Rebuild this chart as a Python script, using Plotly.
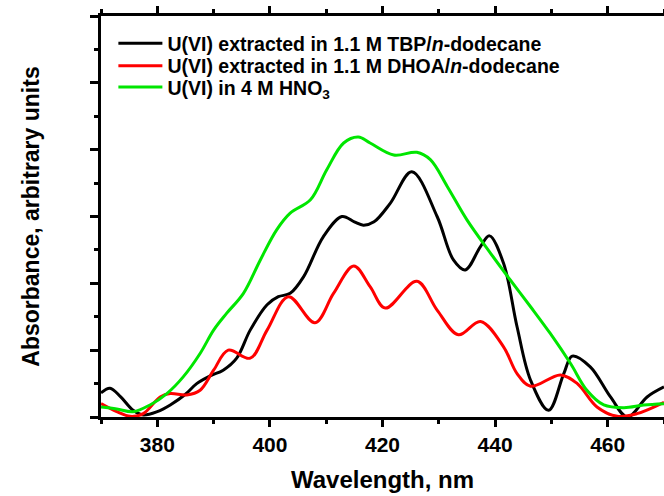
import plotly.graph_objects as go

# Wavelength (nm) and absorbance (arbitrary units)
tbp_x = [370.0, 371.6, 373.5, 375.7, 377.5, 380.0, 382.3, 385.0, 387.0, 389.5, 391.7, 394.1,
         396.5, 399.5, 401.5, 403.6, 406.0, 409.5, 412.8, 415.0, 416.6, 418.5, 421.4, 425.2,
         429.7, 432.6, 434.7, 437.4, 439.0, 441.5, 443.9, 446.3, 449.5, 452.2, 453.7, 456.9,
         460.5, 463.5, 467.0, 470.0]
tbp_y = [0.36, 0.43, 0.30, 0.10, 0.03, 0.08, 0.18, 0.34, 0.50, 0.62, 0.70, 0.88,
         1.30, 1.68, 1.80, 1.85, 2.10, 2.70, 3.00, 2.92, 2.87, 2.92, 3.20, 3.67,
         3.00, 2.35, 2.20, 2.55, 2.71, 2.30, 1.35, 0.55, 0.10, 0.65, 0.91, 0.75,
         0.30, 0.00, 0.30, 0.45]

dhoa_x = [370.0, 372.8, 375.2, 377.5, 380.5, 382.3, 385.2, 387.6, 390.0, 392.6, 396.5, 399.5,
          403.3, 408.0, 411.3, 414.9, 417.8, 420.5, 426.1, 429.7, 433.5, 437.4, 441.5, 443.9,
          446.3, 451.6, 454.6, 458.1, 461.7, 465.2, 470.0]
dhoa_y = [0.20, 0.08, 0.01, 0.05, 0.30, 0.35, 0.33, 0.40, 0.70, 1.00, 0.88, 1.30,
          1.80, 1.41, 1.85, 2.26, 1.95, 1.63, 2.03, 1.60, 1.23, 1.43, 1.05, 0.65,
          0.46, 0.63, 0.50, 0.15, 0.01, 0.05, 0.22]

hno3_x = [370.0, 372.8, 375.7, 378.7, 381.7, 384.6, 387.6, 390.0, 392.3, 395.3, 398.3, 401.2,
          403.6, 407.2, 410.1, 413.1, 415.7, 417.8, 422.0, 426.1, 428.5, 431.5, 435.0, 439.2,
          442.7, 446.3, 449.8, 453.4, 456.3, 459.3, 462.9, 466.4, 470.0]
hno3_y = [0.15, 0.12, 0.08, 0.18, 0.35, 0.60, 0.95, 1.30, 1.55, 1.85, 2.35, 2.80,
          3.05, 3.25, 3.70, 4.10, 4.19, 4.10, 3.92, 3.96, 3.85, 3.45, 2.95, 2.45,
          2.05, 1.65, 1.25, 0.80, 0.40, 0.18, 0.14, 0.18, 0.20]

names = ["U(VI) extracted in 1.1 M TBP/<i>n</i>-dodecane",
         "U(VI) extracted in 1.1 M DHOA/<i>n</i>-dodecane",
         "U(VI) in 4 M HNO<sub>3</sub>"]
colors = ["#000000", "#ff0000", "#00e600"]
legend_ids = ["legend", "legend2", "legend3"]
legend_tops = [0.980, 0.9235, 0.8705]

FONT = "Liberation Sans, Arial, sans-serif"

fig = go.Figure()
for xs, ys, nm, c, lg in zip([tbp_x, dhoa_x, hno3_x], [tbp_y, dhoa_y, hno3_y], names, colors, legend_ids):
    fig.add_trace(go.Scatter(x=xs, y=ys, name=nm, mode="lines", legend=lg,
                             line=dict(color=c, width=3, shape="spline", smoothing=1.0)))

legend_style = dict(xanchor="left", yanchor="top", bgcolor="rgba(0,0,0,0)", borderwidth=0,
                    font=dict(family=FONT, size=19.5, color="black", weight="bold"),
                    itemwidth=44)

fig.update_layout(
    width=664, height=496,
    margin=dict(l=101, r=0, t=16, b=79),
    paper_bgcolor="white", plot_bgcolor="white",
    font=dict(family=FONT, color="black", weight="bold"),
    showlegend=True,
    xaxis=dict(range=[370, 470], dtick=20, tick0=380,
               showline=True, linecolor="black", linewidth=2.5,
               mirror="ticks", ticks="outside", ticklen=7, tickwidth=2.5, tickcolor="black",
               minor=dict(dtick=10, tick0=370, ticks="outside", ticklen=4, tickwidth=2.5, tickcolor="black"),
               showgrid=False, zeroline=False,
               tickfont=dict(family=FONT, size=21, color="black", weight="bold"),
               title=dict(text="Wavelength, nm", standoff=17,
                          font=dict(family=FONT, size=24, color="black", weight="bold"))),
    yaxis=dict(range=[0, 6], dtick=1, tick0=0,
               showline=True, linecolor="black", linewidth=2.5,
               ticks="outside", ticklen=8, tickwidth=2.5, tickcolor="black",
               minor=dict(dtick=0.5, ticks="outside", ticklen=4, tickwidth=2.5, tickcolor="black"),
               showticklabels=False, showgrid=False, zeroline=False,
               title=dict(text="Absorbance, arbitrary units", standoff=45,
                          font=dict(family=FONT, size=23, color="black", weight="bold"))),
)
for lg, top in zip(legend_ids, legend_tops):
    fig.update_layout({lg: dict(x=0.022, y=top, **legend_style)})

fig.write_html("out.html")
